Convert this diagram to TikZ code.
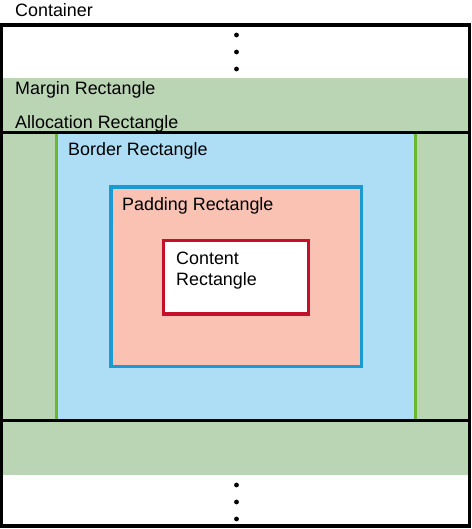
\documentclass[tikz,border=0pt]{standalone}
\usepackage{fontspec}
\setmainfont{Liberation Sans}
\definecolor{margingreen}{RGB}{186,213,180}
\definecolor{borderblue}{RGB}{174,222,245}
\definecolor{padsalmon}{RGB}{249,194,178}
\definecolor{padstroke}{RGB}{26,154,208}
\definecolor{contentred}{RGB}{196,16,42}
\definecolor{bordergreen}{RGB}{106,184,46}
\tikzset{
  lbl/.style={anchor=base west, inner sep=0pt, font=\fontsize{17.9}{21}\selectfont},
  dot/.style={circle, fill=black, inner sep=0pt, minimum size=4.8pt}
}
\begin{document}
\begin{tikzpicture}[x=1pt,y=-1pt]
\useasboundingbox (0,0) rectangle (471,529);
% margin area
\fill[margingreen] (1.5,78) rectangle (469.5,475);
% border area
\fill[borderblue] (56,133) rectangle (415.7,420);
\draw[bordergreen, line width=3pt] (56,133) -- (56,420);
\draw[bordergreen, line width=3pt] (415.7,133) -- (415.7,420);
% allocation rectangle
\draw[black, line width=2.6pt] (1.5,132.5) rectangle (469.5,420.5);
% padding rectangle
\draw[padstroke, fill=padsalmon, line width=3.2pt] (111,187) rectangle (361.7,366.7);
% content rectangle
\draw[contentred, fill=white, line width=3.2pt] (163.3,240.7) rectangle (308.3,314);
% container
\draw[black, line width=3.4pt] (1.7,25) rectangle (469.3,526);
% dots
\node[dot] (d1) at (236.5,35) {};
\node[dot] (d2) at (236.5,52) {};
\node[dot] (d3) at (236.5,69) {};
\node[dot] (d4) at (236.5,485) {};
\node[dot] (d5) at (236.5,502) {};
\node[dot] (d6) at (236.5,519) {};
% labels
\node[lbl] (tcont) at (15,17) {Container};
\node[lbl] (tmarg) at (15,94.5) {Margin Rectangle};
\node[lbl] (talloc) at (15,128.5) {Allocation Rectangle};
\node[lbl] (tbord) at (68,156) {Border Rectangle};
\node[lbl] (tpad) at (122,210.5) {Padding Rectangle};
\node[lbl] (tc1) at (176,264.5) {Content};
\node[lbl] (tc2) at (176,285) {Rectangle};
\end{tikzpicture}
\end{document}
